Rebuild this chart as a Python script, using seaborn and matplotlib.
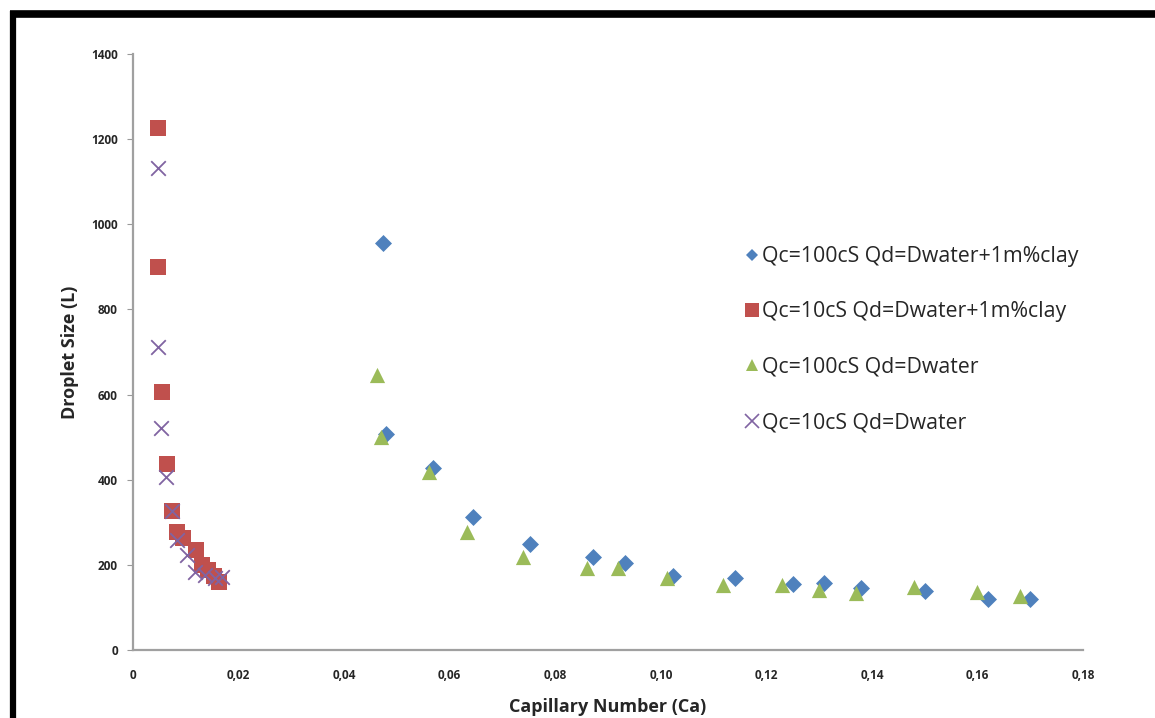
import numpy as np
import pandas as pd
import matplotlib
matplotlib.use('Agg')
import matplotlib.pyplot as plt
from matplotlib.lines import Line2D
from matplotlib.ticker import FuncFormatter
import seaborn as sns

# Qc=100cS Qd=Dwater+1m%clay
ca_100_clay = [0.0474, 0.0480, 0.0568, 0.0644, 0.0752, 0.0872, 0.0932, 0.1023,
               0.1140, 0.1250, 0.1310, 0.1380, 0.1500, 0.1620, 0.1700]
size_100_clay = [955, 507, 427, 313, 249, 219, 204, 175,
                 169, 155, 157, 146, 139, 120, 120]

# Qc=10cS Qd=Dwater+1m%clay
ca_10_clay = [0.0047, 0.0047, 0.0055, 0.0064, 0.0074, 0.0083, 0.0094,
              0.0119, 0.0131, 0.0142, 0.0153, 0.0163]
size_10_clay = [1226, 900, 606, 437, 327, 277, 263,
                235, 200, 188, 174, 160]

# Qc=100cS Qd=Dwater
ca_100 = [0.0462, 0.0470, 0.0561, 0.0633, 0.0739, 0.0860, 0.0919, 0.1012,
          0.1118, 0.1230, 0.1300, 0.1370, 0.1480, 0.1600, 0.1680]
size_100 = [646, 500, 418, 277, 218, 193, 193, 169,
            153, 153, 141, 134, 148, 136, 127]

# Qc=10cS Qd=Dwater
ca_10 = [0.0047, 0.0047, 0.0053, 0.0063, 0.0074, 0.0083, 0.0102,
         0.0117, 0.0136, 0.0155, 0.0169]
size_10 = [1132, 712, 521, 406, 327, 258, 223,
           183, 176, 169, 171]

labels = ['Qc=100cS Qd=Dwater+1m%clay', 'Qc=10cS Qd=Dwater+1m%clay',
          'Qc=100cS Qd=Dwater', 'Qc=10cS Qd=Dwater']
colors = ['#4F81BD', '#C0504D', '#9BBB59', '#8064A2']
markers = ['D', 's', '^', 'x']
msizes = [75, 130, 120, 110]

series = [(ca_100_clay, size_100_clay), (ca_10_clay, size_10_clay),
          (ca_100, size_100), (ca_10, size_10)]

sns.set_style('white')
plt.rcParams['font.family'] = ['Open Sans', 'DejaVu Sans']

fig = plt.figure(figsize=(11.55, 7.18), dpi=100)
ax = fig.add_axes([0.1152, 0.0947, 0.8225, 0.8301])

for (x, y), lab, col, mk, ms in zip(series, labels, colors, markers, msizes):
    df = pd.DataFrame({'Ca': x, 'L': y})
    kw = dict(linewidth=0) if mk != 'x' else dict(linewidth=1.3)
    sns.scatterplot(data=df, x='Ca', y='L', ax=ax, color=col, marker=mk,
                    s=ms, label=lab, legend=False, zorder=3, **kw)

ax.set_xlim(0, 0.18)
ax.set_ylim(0, 1400)
ax.set_xticks(np.arange(0, 0.181, 0.02))
ax.set_yticks(np.arange(0, 1401, 200))
ax.xaxis.set_major_formatter(FuncFormatter(
    lambda v, p: '0' if abs(v) < 1e-9 else f'{v:.2f}'.replace('.', ',')))
ax.tick_params(axis='both', labelsize=8.5)
for t in ax.get_xticklabels() + ax.get_yticklabels():
    t.set_fontweight('bold')
ax.tick_params(axis='x', length=0, pad=14)
ax.tick_params(axis='y', length=4, color='#999999', direction='out', pad=7, left=True)

sns.despine(ax=ax)
for sp in ['left', 'bottom']:
    ax.spines[sp].set_color('#A0A0A0')
    ax.spines[sp].set_linewidth(1.6)

ax.set_xlabel('Capillary Number (Ca)', fontsize=13, fontweight='bold', labelpad=11)
ax.set_ylabel('Droplet Size (L)', fontsize=13, fontweight='bold', labelpad=9)

handles = [Line2D([], [], linestyle='none', marker=mk, color=col,
                  markersize=ms, markeredgewidth=1.2 if mk == 'x' else 0)
           for mk, col, ms in zip(markers, colors, [6.5, 10, 9, 10])]
ax.legend(handles, labels, loc='upper left', bbox_to_anchor=(0.632, 0.692),
          frameon=False, fontsize=15.3, labelspacing=1.62, handletextpad=0.05,
          handlelength=0.9, borderaxespad=0)

# black frame lines at top and left of the picture
fig.add_artist(Line2D([0.0087, 1.0], [0.9805, 0.9805], transform=fig.transFigure,
                      color='black', linewidth=5.5, solid_capstyle='butt'))
fig.add_artist(Line2D([0.0113, 0.0113], [0.0, 0.985], transform=fig.transFigure,
                      color='black', linewidth=4.5, solid_capstyle='butt'))

fig.savefig('out.png', dpi=100)
